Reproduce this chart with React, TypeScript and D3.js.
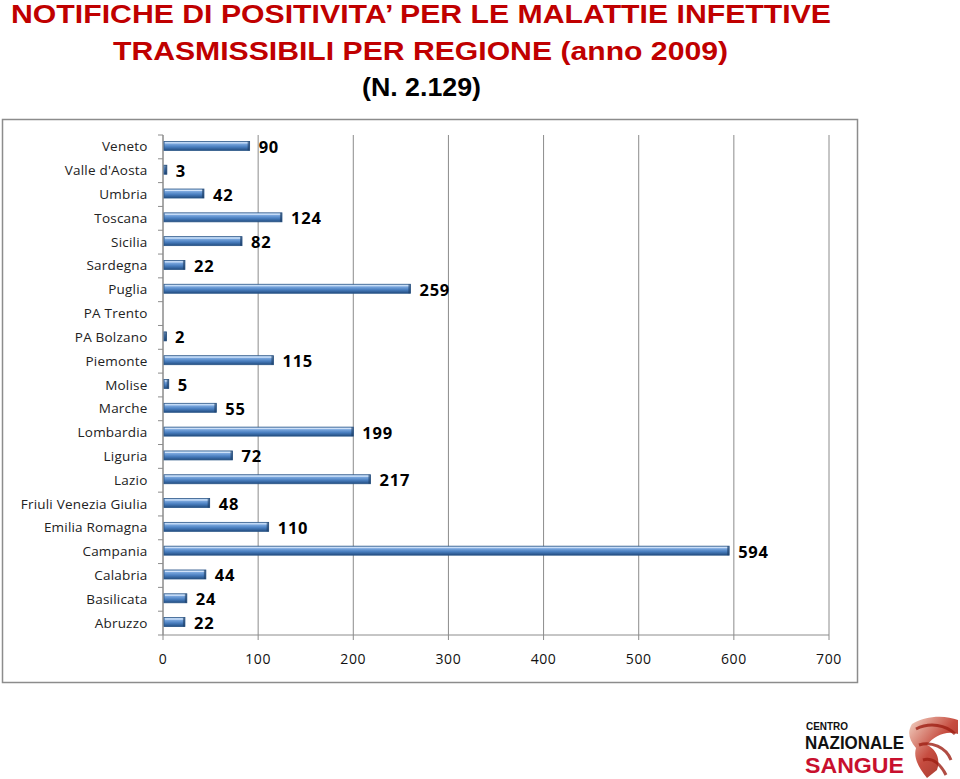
import React from "react";
import * as d3 from "d3";

const categories = [
  "Veneto", "Valle d'Aosta", "Umbria", "Toscana", "Sicilia", "Sardegna", "Puglia",
  "PA Trento", "PA Bolzano", "Piemonte", "Molise", "Marche", "Lombardia", "Liguria",
  "Lazio", "Friuli Venezia Giulia", "Emilia Romagna", "Campania", "Calabria",
  "Basilicata", "Abruzzo",
];
const values: (number | null)[] = [
  90, 3, 42, 124, 82, 22, 259, null, 2, 115, 5, 55, 199, 72, 217, 48, 110, 594, 44, 24, 22,
];
const xTicks = [0, 100, 200, 300, 400, 500, 600, 700];
const titleLines = [
  "NOTIFICHE DI POSITIVITA’ PER LE MALATTIE INFETTIVE",
  "TRASMISSIBILI  PER REGIONE (anno 2009)",
];
const subtitle = "(N. 2.129)";

export default function App() {
  const W = 960, H = 779;
  const left = 163, right = 829, top = 135, bottom = 635;
  const x = d3.scaleLinear().domain([0, 700]).range([left, right]);
  const y = d3.scaleBand().domain(categories).range([top, bottom]).padding(0);
  const barH = 9;
  const narrow = "'Liberation Sans Narrow', 'Arial Narrow', 'Liberation Sans', Arial, sans-serif";
  const labelFont = "'Open Sans', 'DejaVu Sans', sans-serif";

  return (
    <svg width={W} height={H} style={{ position: "absolute", left: 0, top: 0, background: "#fff" }}>
      <defs>
        <linearGradient id="barGrad" x1="0" y1="0" x2="0" y2="1">
          <stop offset="0" stopColor="#c4dcf6" />
          <stop offset="0.25" stopColor="#7eaae0" />
          <stop offset="0.6" stopColor="#4a7fc0" />
          <stop offset="1" stopColor="#234e82" />
        </linearGradient>
        <linearGradient id="logoGrad" x1="0" y1="0" x2="1" y2="1">
          <stop offset="0" stopColor="#f3d3c2" />
          <stop offset="0.5" stopColor="#c0392b" />
          <stop offset="1" stopColor="#8e1b10" />
        </linearGradient>
      </defs>
      <rect x={0} y={0} width={W} height={H} fill="#fff" />

      {/* Title */}
      <text x={11} y={23} textLength={820} lengthAdjust="spacingAndGlyphs" fill="#c00000"
        fontFamily={narrow} fontWeight="bold" fontSize={26}>{titleLines[0]}</text>
      <text x={113} y={60} textLength={615} lengthAdjust="spacingAndGlyphs" fill="#c00000"
        fontFamily={narrow} fontWeight="bold" fontSize={26}>{titleLines[1]}</text>
      <text x={362} y={96} textLength={119} lengthAdjust="spacingAndGlyphs" fill="#000"
        fontFamily={narrow} fontWeight="bold" fontSize={26}>{subtitle}</text>

      {/* Chart frame */}
      <rect x={2.5} y={119.5} width={855} height={563} fill="#fff" stroke="#8c8c8c" strokeWidth={1.5} />

      {/* Gridlines */}
      {xTicks.map((t) => (
        <line key={"g" + t} x1={x(t)} x2={x(t)} y1={top} y2={bottom + 5} stroke="#8c8c8c" strokeWidth={1} />
      ))}
      {/* Axes */}
      <line x1={left} x2={right} y1={bottom} y2={bottom} stroke="#8c8c8c" strokeWidth={1} />
      <line x1={left} x2={left} y1={top} y2={bottom} stroke="#8c8c8c" strokeWidth={1} />
      {categories.map((c, i) => (
        <line key={"yt" + i} x1={left - 5} x2={left} y1={y(c)!} y2={y(c)!} stroke="#8c8c8c" />
      ))}
      <line x1={left - 5} x2={left} y1={bottom} y2={bottom} stroke="#8c8c8c" />

      {/* X tick labels */}
      {xTicks.map((t) => (
        <text key={"xl" + t} x={x(t)} y={664} textAnchor="middle" fontFamily={labelFont}
          fontSize={14} letterSpacing={0.6} fill="#111">{t}</text>
      ))}

      {/* Category labels */}
      {categories.map((c) => (
        <text key={"cl" + c} x={147.5} y={y(c)! + y.bandwidth() / 2 + 4.5} textAnchor="end"
          fontFamily={labelFont} fontSize={13.5} letterSpacing={0.2} fill="#222">{c}</text>
      ))}

      {/* Bars */}
      {categories.map((c, i) => {
        const v = values[i];
        if (v == null) return null;
        const cy = y(c)! + y.bandwidth() / 2;
        const w = Math.max(x(v) - x(0), 2.5);
        const by = cy - barH / 2 - 1;
        return (
          <g key={"b" + c}>
            <rect x={x(0) + 1} y={by} width={w} height={barH} fill="url(#barGrad)"
              stroke="#2a5587" strokeWidth={0.8} />
            <line x1={x(0) + 2} x2={x(0) + w} y1={by + 1.5} y2={by + 1.5} stroke="#e2efff" strokeWidth={1} opacity={0.8} />
            <rect x={x(0) + 1 + w - 2} y={by} width={2} height={barH} fill="#1c3c63" opacity={0.6} />
            <text x={x(v) + 10} y={cy + 6} fontFamily={labelFont} fontWeight="bold" fontSize={16.5}
              letterSpacing={0.8} fill="#000">{v}</text>
          </g>
        );
      })}

      {/* Logo */}
      <g>
        <text x={806} y={730} textLength={42} lengthAdjust="spacingAndGlyphs" fontFamily={narrow}
          fontWeight="bold" fontSize={11} fill="#111">CENTRO</text>
        <text x={805} y={749} textLength={99} lengthAdjust="spacingAndGlyphs" fontFamily={narrow}
          fontWeight="bold" fontSize={18} fill="#111">NAZIONALE</text>
        <text x={805} y={773} textLength={99} lengthAdjust="spacingAndGlyphs" fontFamily={narrow}
          fontWeight="bold" fontSize={22} fill="#c8102e">SANGUE</text>
        <path d="M912,724 C926,715 946,715 958,720 L958,734 C946,730 934,736 927,745 C936,749 941,759 937,770 L927,778 C919,768 913,758 916,748 C909,740 907,732 912,724 Z"
          fill="url(#logoGrad)" opacity={0.9} />
        <path d="M916,729 C930,722 946,725 955,734 M919,745 C931,741 946,747 951,760 M923,760 C933,757 941,765 946,775"
          stroke="#9e1f14" strokeWidth={3} fill="none" opacity={0.8} />
      </g>
    </svg>
  );
}
